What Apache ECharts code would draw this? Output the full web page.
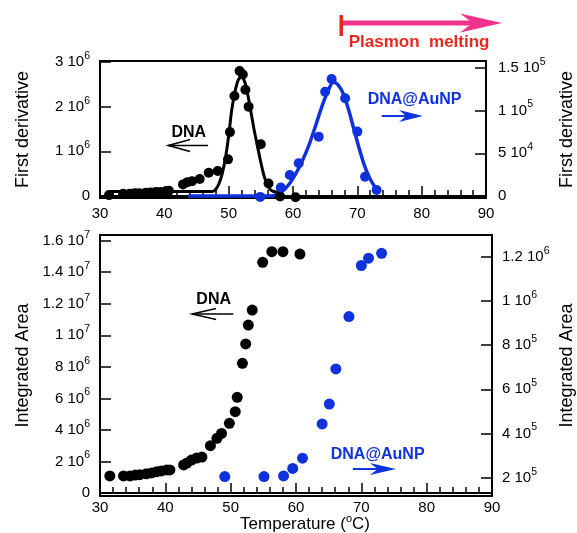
<!DOCTYPE html>
<html><head><meta charset="utf-8">
<script src="https://cdn.jsdelivr.net/npm/echarts@6/dist/echarts.min.js"></script>
<style>html,body{margin:0;padding:0;background:#fff}#c{width:577px;height:533px}</style>
</head><body><div id="c"></div>
<script>
// ---------- data ----------
// Top panel: first derivative (DNA on left axis, DNA@AuNP on right axis)
const dnaDerivPoints = [[31.4,0.02e6],[33.6,0.05e6],[34.6,0.05e6],[35.4,0.06e6],[36.1,0.06e6],[37.1,0.07e6],[37.9,0.08e6],[38.7,0.09e6],[39.4,0.09e6],[40.2,0.1e6],[40.7,0.12e6],[42.9,0.26e6],[43.6,0.31e6],[44.3,0.33e6],[45.5,0.38e6],[46.9,0.52e6],[48.3,0.56e6],[49.9,0.82e6],[50.2,1.43e6],[50.9,2.24e6],[51.7,2.8e6],[52.2,2.72e6],[52.6,2.38e6],[53.1,2.0e6],[55.0,1.16e6],[56.2,0.28e6],[58.0,-0.01e6],[60.4,-0.03e6]];
const dnaDerivFit = [[31.3,0.1e6],[47.5,0.1e6],[48.0,0.15e6],[48.5,0.28e6],[49.0,0.5e6],[49.5,0.85e6],[50.0,1.35e6],[50.5,1.95e6],[51.0,2.35e6],[51.5,2.6e6],[52.0,2.67e6],[52.5,2.55e6],[53.0,2.25e6],[53.5,1.85e6],[54.0,1.45e6],[54.5,1.1e6],[55.0,0.75e6],[55.5,0.45e6],[56.0,0.25e6],[56.5,0.14e6],[57.0,0.1e6],[58.0,0.08e6]];
const aunpDerivPoints = [[54.9,-1e3],[58.1,10e3],[59.5,24.6e3],[60.9,38.5e3],[64.0,69.5e3],[65.0,122e3],[66.0,137e3],[68.1,114.5e3],[70.0,75.4e3],[71.2,22.6e3],[73.0,7e3]];
const aunpDerivFit = [[43.7,0],[56.5,0],[57.5,2e3],[58.5,6.5e3],[59.5,15e3],[60.5,27e3],[61.5,42e3],[62.5,60e3],[63.5,82e3],[64.5,105e3],[65.5,124e3],[66.3,133e3],[67.0,130e3],[67.8,120e3],[68.6,102e3],[69.4,80e3],[70.2,58e3],[71.0,38e3],[71.8,23e3],[72.6,12e3],[73.4,5e3]];
// Bottom panel: integrated area
const dnaAreaPoints = [[31.5,1.08e6],[33.6,1.08e6],[34.6,1.08e6],[35.4,1.14e6],[36.1,1.16e6],[37.1,1.22e6],[37.9,1.27e6],[38.7,1.35e6],[39.4,1.4e6],[40.2,1.46e6],[40.7,1.46e6],[42.8,1.78e6],[43.3,1.9e6],[44.0,2.09e6],[44.8,2.22e6],[45.6,2.28e6],[46.9,3.0e6],[47.9,3.47e6],[48.6,3.78e6],[49.8,4.42e6],[50.7,5.16e6],[51.0,6.07e6],[51.8,8.22e6],[52.3,9.45e6],[52.7,10.65e6],[53.3,11.6e6],[54.9,14.63e6],[56.3,15.3e6],[58.0,15.3e6],[60.6,15.15e6]];
const aunpAreaPoints = [[49.1,205e3],[55.1,205e3],[58.1,208e3],[59.5,242e3],[61.0,288e3],[64.0,443e3],[65.1,533e3],[66.1,692e3],[68.1,929e3],[70.0,1160e3],[71.1,1193e3],[73.1,1215e3]];
// tick values
const xTicks = [30,40,50,60,70,80,90];
const topLeftTicks = [0,1e6,2e6,3e6];
const topRightTicks = [0,5e4,1e5,1.5e5];
const botLeftTicks = [0,2e6,4e6,6e6,8e6,1e7,1.2e7,1.4e7,1.6e7];
const botRightTicks = [2e5,4e5,6e5,8e5,1e6,1.2e6];
// annotation anchors in data coordinates
const annTop = {dnaText:[43.8,1.43e6], dnaArrow:[[46.8,1.13e6],[40.6,1.13e6]], aunpText:[78.9,2.15e6], aunpArrow:[[73.8,1.79e6],[80.2,1.79e6]]};
const annPlasmon = {start:[67.5,3.87e6], end:[92.5,3.87e6], text:[79.6,3.43e6], barTop:4.05e6, barBottom:3.58e6};
const annBot = {dnaText:[47.4,12.25e6], dnaArrow:[[50.4,11.35e6],[44.1,11.35e6]], aunpText:[72.5,2.41e6], aunpArrow:[[68.7,1.52e6],[75.3,1.52e6]]};

// ---------- styles ----------
const FONT = '"Liberation Sans", Arial, Helvetica, sans-serif';
const BLUE = '#0f32dc';
function sciLabel(v){
  if (v === 0) return '0';
  const e = Math.floor(Math.log10(v) + 1e-9);
  const m = Math.round(v / Math.pow(10,e) * 100) / 100;
  return m + ' 10{sup|' + e + '}';
}
const labelRich = {sup:{fontSize:10.5, fontFamily:FONT, color:'#000', padding:[0,0,12,0]}};
function xAxisCfg(grid, margin, extra){
  return Object.assign({
    gridIndex:grid, type:'value', min:30, max:90, interval:10,
    axisLine:{lineStyle:{color:'#000', width:2}},
    axisTick:{inside:true, length:10, lineStyle:{color:'#000', width:1.5}},
    minorTick:{show:true, splitNumber:5, length:6, lineStyle:{color:'#000', width:1.5}},
    splitLine:{show:false},
    axisLabel:{margin:margin, fontSize:15, fontFamily:FONT, color:'#000', customValues:xTicks}
  }, extra||{});
}
function yAxisCfg(grid, pos, min, max, ticks, name, gap, margin){
  return {
    gridIndex:grid, type:'value', position:pos, min:min, max:max,
    axisLine:{show:true, lineStyle:{color:'#000', width:2}},
    axisTick:{show:true, inside:true, length:11, lineStyle:{color:'#000', width:1.5}, customValues:ticks},
    splitLine:{show:false},
    axisLabel:{margin:margin, fontSize:15, fontFamily:FONT, color:'#000', customValues:ticks, formatter:sciLabel, rich:labelRich},
    name:name, nameLocation:'middle', nameRotate:90, nameGap:gap, nameMoveOverlap:false,
    nameTextStyle:{fontSize:18, fontFamily:FONT, color:'#000'}
  };
}

const chart = echarts.init(document.getElementById('c'), null, {renderer:'canvas'});
chart.setOption({
  animation:false,
  backgroundColor:'#fff',
  grid:[
    {left:100, right:91, top:61, height:137, show:true, borderColor:'#000', borderWidth:2, containLabel:false, outerBoundsMode:'none'},
    {left:100, right:85, top:235, height:261, show:true, borderColor:'#000', borderWidth:2, containLabel:false, outerBoundsMode:'none'}
  ],
  xAxis:[
    xAxisCfg(0, 8),
    xAxisCfg(1, 4, {
      name:'{t|Temperature (}{s|o}{t|C)}', nameLocation:'middle', nameGap:17, nameMoveOverlap:false,
      nameTextStyle:{padding:[0,0,0,18], rich:{t:{fontSize:17, fontFamily:FONT, color:'#000'}, s:{fontSize:11, fontFamily:FONT, color:'#000', padding:[0,0,11,0]}}}
    })
  ],
  yAxis:[
    yAxisCfg(0,'left', -0.045e6, 3.022e6, topLeftTicks, 'First derivative', 68, 10),
    yAxisCfg(0,'right', -2.3e3, 158e3, topRightTicks, 'First derivative', 72, 12),
    yAxisCfg(1,'left', -0.19e6, 16.36e6, botLeftTicks, 'Integrated Area', 68, 10),
    yAxisCfg(1,'right', 117e3, 1298e3, botRightTicks, 'Integrated Area', 66, 10)
  ],
  series:[
    {type:'line', xAxisIndex:0, yAxisIndex:0, data:dnaDerivFit, showSymbol:false, smooth:0.3, lineStyle:{color:'#000', width:3}, z:2},
    {type:'line', xAxisIndex:0, yAxisIndex:1, data:aunpDerivFit, showSymbol:false, smooth:0.3, lineStyle:{color:BLUE, width:3.5}, z:2},
    {type:'scatter', xAxisIndex:0, yAxisIndex:0, data:dnaDerivPoints, symbolSize:10, itemStyle:{color:'#000', opacity:1}, z:3},
    {type:'scatter', xAxisIndex:0, yAxisIndex:1, data:aunpDerivPoints, symbolSize:10, itemStyle:{color:BLUE, opacity:1}, z:3},
    {type:'scatter', xAxisIndex:1, yAxisIndex:2, data:dnaAreaPoints, symbolSize:11, itemStyle:{color:'#000', opacity:1}, z:3},
    {type:'scatter', xAxisIndex:1, yAxisIndex:3, data:aunpAreaPoints, symbolSize:11, itemStyle:{color:BLUE, opacity:1}, z:3}
  ]
});

// ---------- annotations (positioned through the axes' own scales) ----------
function px(xi, yi, pt){ return chart.convertToPixel({xAxisIndex:xi, yAxisIndex:yi}, pt); }
function arrow(a, b, color, w, headLen, headHalf, filled){
  const dx = b[0]-a[0], dy = b[1]-a[1], L = Math.hypot(dx,dy), ux = dx/L, uy = dy/L;
  const back = [b[0]-ux*headLen, b[1]-uy*headLen];
  const p1 = [back[0]-uy*headHalf, back[1]+ux*headHalf], p2 = [back[0]+uy*headHalf, back[1]-ux*headHalf];
  const els = [{type:'line', shape:{x1:a[0], y1:a[1], x2:b[0]-ux*(filled?headLen*0.6:0), y2:b[1]-uy*(filled?headLen*0.6:0)}, style:{stroke:color, lineWidth:w}}];
  if (filled) {
    const notch = [b[0]-ux*headLen*0.7, b[1]-uy*headLen*0.7];
    els.push({type:'polygon', shape:{points:[b, p1, notch, p2]}, style:{fill:color}});
  } else {
    els.push({type:'polyline', shape:{points:[p1, b, p2]}, style:{stroke:color, lineWidth:w, fill:null}});
  }
  return els;
}
function text(p, s, color, size){
  return {type:'text', x:p[0], y:p[1], style:{text:s, fill:color, font:'bold '+size+'px '+FONT, align:'center', verticalAlign:'middle'}};
}
const g = [];
g.push(text(px(0,0,annTop.dnaText), 'DNA', '#000', 16));
g.push(...arrow(px(0,0,annTop.dnaArrow[0]), px(0,0,annTop.dnaArrow[1]), '#000', 1.5, 22, 6, false));
g.push(text(px(0,0,annTop.aunpText), 'DNA@AuNP', BLUE, 16));
g.push(...arrow(px(0,0,annTop.aunpArrow[0]), px(0,0,annTop.aunpArrow[1]), BLUE, 2, 24, 6, true));
const ps = px(0,0,annPlasmon.start), pe = px(0,0,annPlasmon.end);
g.push(...arrow(ps, pe, '#f0328c', 5, 42, 9.5, true));
g.push({type:'line', shape:{x1:ps[0], y1:px(0,0,[annPlasmon.start[0], annPlasmon.barTop])[1], x2:ps[0], y2:px(0,0,[annPlasmon.start[0], annPlasmon.barBottom])[1]}, style:{stroke:'#e8281e', lineWidth:3.5}});
g.push(text(px(0,0,annPlasmon.text), 'Plasmon  melting', '#e8281e', 17));
g.push(text(px(1,2,annBot.dnaText), 'DNA', '#000', 16));
g.push(...arrow(px(1,2,annBot.dnaArrow[0]), px(1,2,annBot.dnaArrow[1]), '#000', 1.5, 24, 5.5, false));
g.push(text(px(1,2,annBot.aunpText), 'DNA@AuNP', BLUE, 16));
g.push(...arrow(px(1,2,annBot.aunpArrow[0]), px(1,2,annBot.aunpArrow[1]), BLUE, 2, 26, 6, true));
chart.setOption({graphic:g});
</script></body></html>
